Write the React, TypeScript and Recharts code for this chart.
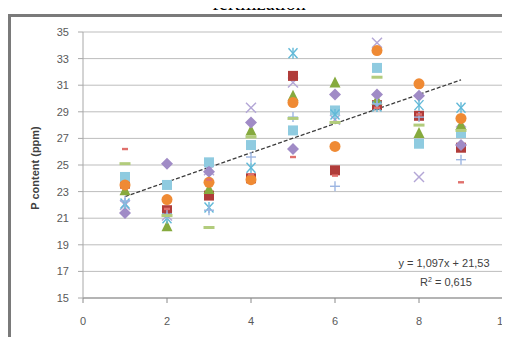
import React from 'react'
import {
  ScatterChart,
  Scatter,
  XAxis,
  YAxis,
  CartesianGrid,
  ReferenceLine
} from 'recharts'

// sampling times (x) and P content per treatment (ppm)
const xValues = [1, 2, 3, 4, 5, 6, 7, 8, 9]
const purpleX = [22.0, 21.2, 24.6, 29.3, 31.2, 28.4, 34.2, 24.1, 28.2]
const redSquare = [23.6, 21.6, 22.7, 24.0, 31.7, 24.6, 29.5, 28.7, 26.3]
const lightBlueSquare = [24.1, 23.5, 25.2, 26.5, 27.6, 29.1, 32.3, 26.6, 27.4]
const greenTriangle = [23.1, 20.4, 23.2, 27.6, 30.2, 31.2, 29.9, 27.4, 28.0]
const purpleDiamond = [21.4, 25.1, 24.5, 28.2, 26.2, 30.3, 30.3, 30.2, 26.5]
const aquaStar = [22.1, 21.0, 21.8, 24.8, 33.4, 28.8, 29.4, 29.5, 29.3]
const orangeCircle = [23.5, 22.4, 23.7, 23.9, 29.7, 26.4, 33.6, 31.1, 28.5]
const bluePlus = [22.3, 21.3, 21.6, 25.6, 28.6, 23.4, 29.6, 28.6, 25.4]
const greenDash = [25.1, 21.2, 20.3, 27.1, 28.5, 28.2, 31.6, 28.0, 27.6]
const redDash = [26.2, 21.7, 23.9, 24.3, 25.6, 24.2, 29.3, 28.8, 23.7]

const xTicks = [0, 2, 4, 6, 8, 10]
const yTicks = [15, 17, 19, 21, 23, 25, 27, 29, 31, 33, 35]

// linear trendline as printed on the chart
const slope = 1.097
const intercept = 21.53
const rSquared = 0.615

const toPoints = (vals: number[]) => vals.map((v, i) => ({ x: xValues[i], y: v }))
const fmt = (n: number) => String(n).replace('.', ',')

type Kind = 'square' | 'diamond' | 'triangle' | 'circle' | 'x' | 'star' | 'plus' | 'dash' | 'shortDash'

const Marker = ({ cx, cy, kind, color }: { cx: number; cy: number; kind: Kind; color: string }) => {
  if (cx == null || cy == null) return null
  switch (kind) {
    case 'square':
      return <rect x={cx - 5} y={cy - 5} width={10} height={10} fill={color} />
    case 'diamond':
      return <polygon points={`${cx},${cy - 6} ${cx + 6},${cy} ${cx},${cy + 6} ${cx - 6},${cy}`} fill={color} />
    case 'triangle':
      return <polygon points={`${cx},${cy - 6} ${cx + 5.5},${cy + 5} ${cx - 5.5},${cy + 5}`} fill={color} />
    case 'circle':
      return <circle cx={cx} cy={cy} r={5.5} fill={color} />
    case 'x':
      return (
        <g stroke={color} strokeWidth={1.4}>
          <line x1={cx - 5} y1={cy - 5} x2={cx + 5} y2={cy + 5} />
          <line x1={cx - 5} y1={cy + 5} x2={cx + 5} y2={cy - 5} />
        </g>
      )
    case 'star':
      return (
        <g stroke={color} strokeWidth={1.4}>
          <line x1={cx - 4.5} y1={cy - 5} x2={cx + 4.5} y2={cy + 5} />
          <line x1={cx - 4.5} y1={cy + 5} x2={cx + 4.5} y2={cy - 5} />
          <line x1={cx} y1={cy - 5.5} x2={cx} y2={cy + 5.5} />
        </g>
      )
    case 'plus':
      return (
        <g stroke={color} strokeWidth={1.4}>
          <line x1={cx - 5} y1={cy} x2={cx + 5} y2={cy} />
          <line x1={cx} y1={cy - 5} x2={cx} y2={cy + 5} />
        </g>
      )
    case 'dash':
      return <rect x={cx - 5.5} y={cy - 1.5} width={11} height={3} fill={color} />
    case 'shortDash':
      return <rect x={cx - 3} y={cy - 1.2} width={6} height={2.4} fill={color} />
  }
  return null
}

const series: { name: string; vals: number[]; kind: Kind; color: string }[] = [
  { name: 's1', vals: purpleX, kind: 'x', color: '#b3a6d6' },
  { name: 's2', vals: redSquare, kind: 'square', color: '#b03c3a' },
  { name: 's3', vals: lightBlueSquare, kind: 'square', color: '#8fcbe0' },
  { name: 's4', vals: greenTriangle, kind: 'triangle', color: '#86aa3e' },
  { name: 's5', vals: purpleDiamond, kind: 'diamond', color: '#a08bc6' },
  { name: 's6', vals: aquaStar, kind: 'star', color: '#62b9d8' },
  { name: 's7', vals: orangeCircle, kind: 'circle', color: '#ef8a34' },
  { name: 's8', vals: bluePlus, kind: 'plus', color: '#9db6e2' },
  { name: 's9', vals: greenDash, kind: 'dash', color: '#b2cc7c' },
  { name: 's10', vals: redDash, kind: 'shortDash', color: '#e0706c' }
]

const tickStyle = { fontSize: 11, fill: '#595959', fontFamily: 'Liberation Sans, Arial, sans-serif' }

export default function App() {
  const trendStart = { x: 1, y: intercept + slope * 1 }
  const trendEnd = { x: 9, y: intercept + slope * 9 }

  return (
    <div style={{ position: 'relative', width: 510, height: 345, margin: -8, overflow: 'hidden', background: '#fff' }}>
      <div
        style={{
          position: 'absolute',
          left: 8,
          top: 14,
          width: 520,
          height: 350,
          borderLeft: '3px solid #7a7a7a',
          borderTop: '3px solid #7a7a7a',
          boxSizing: 'border-box'
        }}
      />
      <div style={{ position: 'absolute', left: 0, top: 0 }}>
        <ScatterChart width={510} height={345} margin={{ top: 32, right: 7, bottom: 17, left: 0 }}>
          <CartesianGrid vertical={false} stroke="#bdbdbd" />
          <XAxis
            type="number"
            dataKey="x"
            domain={[0, 10]}
            ticks={xTicks}
            interval={0}
            height={30}
            tickSize={5}
            tickMargin={14}
            stroke="#8a8a8a"
            tick={tickStyle}
            allowDataOverflow
          />
          <YAxis
            type="number"
            dataKey="y"
            domain={[15, 35]}
            ticks={yTicks}
            interval={0}
            width={83}
            tickSize={5}
            tickMargin={9}
            stroke="#a8a8a8"
            tick={tickStyle}
            allowDataOverflow
          />
          <ReferenceLine
            segment={[trendStart, trendEnd]}
            stroke="#3c3c3c"
            strokeWidth={1.3}
            strokeDasharray="4 2"
          />
          {series.map((s) => (
            <Scatter
              key={s.name}
              name={s.name}
              data={toPoints(s.vals)}
              isAnimationActive={false}
              shape={(p: any) => <Marker cx={p.cx} cy={p.cy} kind={s.kind} color={s.color} />}
            />
          ))}
        </ScatterChart>
      </div>
      <svg width={510} height={345} style={{ position: 'absolute', left: 0, top: 0, pointerEvents: 'none' }}>
        <line x1={9} y1={15} x2={510} y2={15} stroke="#7a7a7a" strokeWidth={2} />
        <line x1={9} y1={15} x2={9} y2={345} stroke="#7a7a7a" strokeWidth={2} />
        <text x={259} y={9.5} textAnchor="middle" fontFamily="Liberation Serif, Times New Roman, serif" fontSize={20} fill="#000">
          fertilization
        </text>
        <text
          x={0}
          y={0}
          transform="translate(39,168) rotate(-90)"
          textAnchor="middle"
          fontFamily="Liberation Sans, Arial, sans-serif"
          fontWeight="bold"
          fontSize={11}
          fill="#404040"
        >
          P content (ppm)
        </text>
        <text x={444} y={267} textAnchor="middle" fontFamily="Liberation Sans, Arial, sans-serif" fontSize={11} fill="#404040">
          {`y = ${fmt(slope)}x + ${fmt(intercept)}`}
        </text>
        <text x={446} y={286} textAnchor="middle" fontFamily="Liberation Sans, Arial, sans-serif" fontSize={11} fill="#404040">
          R<tspan fontSize={7} dy={-4}>2</tspan>
          <tspan dy={4}>{` = ${fmt(rSquared)}`}</tspan>
        </text>
      </svg>
    </div>
  )
}
